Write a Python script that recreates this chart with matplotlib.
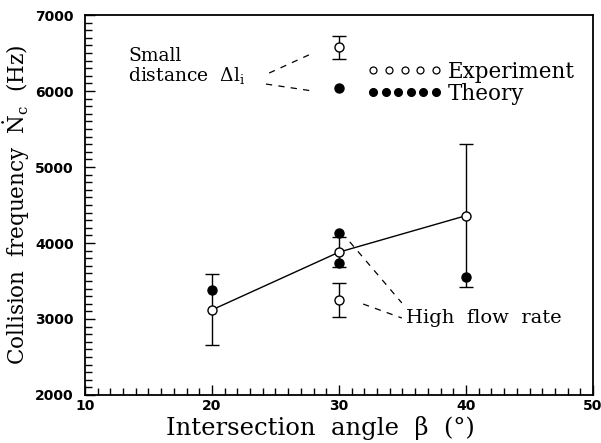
import matplotlib
matplotlib.use("Agg")
import matplotlib.pyplot as plt
from matplotlib.legend_handler import HandlerLine2D
from matplotlib.ticker import MultipleLocator

plt.rcParams['font.family'] = 'DejaVu Serif'
plt.rcParams['mathtext.fontset'] = 'dejavuserif'

# experimental points on the main curve
angle = [20, 30, 40]
exp_freq = [3120, 3880, 4360]
exp_lo = [2660, 3690, 3420]
exp_hi = [3590, 4080, 5300]

# theory for the main curve (two values at 30 deg)
th_angle = [20, 30, 30, 40]
th_freq = [3385, 4135, 3740, 3555]

# high flow rate case
hf_angle = [30]
hf_freq = [3250]
hf_lo = [3025]
hf_hi = [3475]

# small distance case
sd_angle = [30]
sd_freq = [6575]
sd_lo = [6420]
sd_hi = [6725]
sd_th = [6045]

fig = plt.figure(figsize=(6.01, 4.43), dpi=100)
ax = fig.add_axes([0.1414, 0.1084, 0.8453, 0.8576])

def err(vals, lo, hi):
    return [[v - l for v, l in zip(vals, lo)], [h - v for v, h in zip(vals, hi)]]

ebar = dict(fmt='none', ecolor='k', elinewidth=1.0, capsize=5, capthick=1.0, zorder=2)
ax.plot(angle, exp_freq, color='k', lw=1.0, zorder=2)
ax.errorbar(angle, exp_freq, yerr=err(exp_freq, exp_lo, exp_hi), **ebar)
ax.errorbar(hf_angle, hf_freq, yerr=err(hf_freq, hf_lo, hf_hi), **ebar)
ax.errorbar(sd_angle, sd_freq, yerr=err(sd_freq, sd_lo, sd_hi), **ebar)

exp_kw = dict(ls='none', marker='o', ms=6.5, mfc='white', mec='k', mew=1.0, zorder=3)
th_kw = dict(ls='none', marker='o', ms=6.5, mfc='k', mec='k', zorder=3)
ax.plot(angle, exp_freq, **exp_kw)
ax.plot(hf_angle, hf_freq, **exp_kw)
ax.plot(sd_angle, sd_freq, **exp_kw)
ax.plot(th_angle, th_freq, **th_kw)
ax.plot(sd_angle, sd_th, **th_kw)

# legend drawn with a row of markers per entry
h_exp, = ax.plot([], [], ls='none', marker='o', ms=5, mfc='none', mec='k', mew=0.9)
h_th, = ax.plot([], [], ls='none', marker='o', ms=5.5, mfc='k', mec='k')
ax.legend([h_exp, h_th], ['Experiment', 'Theory'],
          handler_map={h_exp: HandlerLine2D(numpoints=5), h_th: HandlerLine2D(numpoints=6)},
          loc='upper left', bbox_to_anchor=(0.517, 0.93), frameon=False,
          handlelength=3.5, handletextpad=0.25, labelspacing=0.0, fontsize=15.5)

# annotations with dashed leader lines
ax.text(13.4, 6320, 'Small\ndistance  $\\Delta\\mathrm{l}_\\mathrm{i}$', fontsize=13.5,
        ha='left', va='center', linespacing=1.0)
ax.plot([24.5, 27.95], [6237, 6500], color='k', lw=0.9, ls=(0, (5, 5)))
ax.plot([24.25, 27.95], [6092, 6000], color='k', lw=0.9, ls=(0, (5, 5)))

ax.text(35.3, 3013, 'High  flow  rate', fontsize=14, ha='left', va='center')
ax.plot([30.85, 34.95], [4015, 3211], color='k', lw=0.9, ls=(0, (5, 5)))
ax.plot([31.9, 34.95], [3197, 3013], color='k', lw=0.9, ls=(0, (5, 5)))

ax.set_xlim(10, 50)
ax.set_ylim(2000, 7000)
ax.xaxis.set_major_locator(MultipleLocator(10))
ax.xaxis.set_minor_locator(MultipleLocator(1))
ax.yaxis.set_major_locator(MultipleLocator(1000))
ax.yaxis.set_minor_locator(MultipleLocator(100))
ax.tick_params(which='both', direction='in', top=False, right=False, width=1.0)
ax.tick_params(which='major', length=7)
ax.tick_params(which='minor', length=5)
for lab in ax.get_xticklabels() + ax.get_yticklabels():
    lab.set_family('DejaVu Sans')
    lab.set_fontsize(10)
    lab.set_fontweight('bold')
ax.tick_params(axis='x', pad=3)
ax.tick_params(axis='y', pad=8)
for s in ax.spines.values():
    s.set_linewidth(1.3)

ax.set_xlabel('Intersection  angle  β  (°)', fontsize=17.5)
ax.xaxis.set_label_coords(0.463, -0.055, transform=ax.transAxes)
ax.xaxis.label.set_va('top')
ax.set_ylabel('Collision  frequency  $\\dot{\\mathrm{N}}_\\mathrm{c}$  (Hz)', fontsize=15.5)
ax.yaxis.set_label_coords(-0.104, 0.5, transform=ax.transAxes)

fig.savefig('out.png', dpi=100)
